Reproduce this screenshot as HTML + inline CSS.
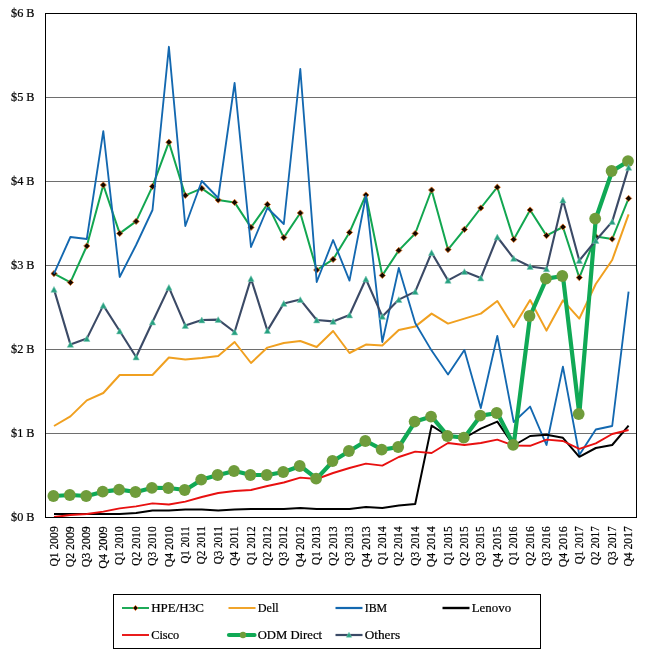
<!DOCTYPE html>
<html><head><meta charset="utf-8"><title>Server revenue by vendor</title>
<style>html,body{margin:0;padding:0;background:#fff}svg{display:block}</style></head>
<body>
<svg width="650" height="665" viewBox="0 0 650 665" font-family="&quot;Liberation Serif&quot;, serif" font-size="13px" >
<rect width="650" height="665" fill="#fff"/>
<style>text{stroke:#000;stroke-width:0.22px;fill:#000}</style>
<rect x="46" y="97" width="590" height="1" fill="#6e6e6e"/>
<rect x="46" y="181" width="590" height="1" fill="#6e6e6e"/>
<rect x="46" y="265" width="590" height="1" fill="#6e6e6e"/>
<rect x="46" y="349" width="590" height="1" fill="#6e6e6e"/>
<rect x="46" y="433" width="590" height="1" fill="#6e6e6e"/>
<polyline fill="none" stroke="#12A650" stroke-width="2.0" stroke-linejoin="round" stroke-linecap="butt" points="54.0,273.6 70.4,282.4 86.8,246.0 103.3,185.0 119.7,233.4 136.1,221.4 152.5,186.4 168.9,142.2 185.3,195.4 201.8,188.4 218.2,200.0 234.6,202.4 251.0,227.4 267.4,204.4 283.8,237.6 300.3,213.0 316.7,270.0 333.1,259.4 349.5,232.4 365.9,195.0 382.3,275.4 398.8,250.4 415.2,233.5 431.6,190.0 448.0,249.6 464.4,229.4 480.8,208.0 497.3,187.2 513.7,239.4 530.1,210.0 546.5,235.6 562.9,227.0 579.3,277.6 595.8,236.6 612.2,239.0 628.6,198.4"/>
<path d="M54.0 270.5L57.1 273.6L54.0 276.7L50.9 273.6Z" fill="#120800" stroke="#E0701E" stroke-width="0.8"/>
<path d="M70.4 279.3L73.5 282.4L70.4 285.5L67.3 282.4Z" fill="#120800" stroke="#E0701E" stroke-width="0.8"/>
<path d="M86.8 242.9L89.9 246.0L86.8 249.1L83.7 246.0Z" fill="#120800" stroke="#E0701E" stroke-width="0.8"/>
<path d="M103.3 181.9L106.4 185.0L103.3 188.1L100.2 185.0Z" fill="#120800" stroke="#E0701E" stroke-width="0.8"/>
<path d="M119.7 230.3L122.8 233.4L119.7 236.5L116.6 233.4Z" fill="#120800" stroke="#E0701E" stroke-width="0.8"/>
<path d="M136.1 218.3L139.2 221.4L136.1 224.5L133.0 221.4Z" fill="#120800" stroke="#E0701E" stroke-width="0.8"/>
<path d="M152.5 183.3L155.6 186.4L152.5 189.5L149.4 186.4Z" fill="#120800" stroke="#E0701E" stroke-width="0.8"/>
<path d="M168.9 139.1L172.0 142.2L168.9 145.3L165.8 142.2Z" fill="#120800" stroke="#E0701E" stroke-width="0.8"/>
<path d="M185.3 192.3L188.4 195.4L185.3 198.5L182.2 195.4Z" fill="#120800" stroke="#E0701E" stroke-width="0.8"/>
<path d="M201.8 185.3L204.9 188.4L201.8 191.5L198.7 188.4Z" fill="#120800" stroke="#E0701E" stroke-width="0.8"/>
<path d="M218.2 196.9L221.3 200.0L218.2 203.1L215.1 200.0Z" fill="#120800" stroke="#E0701E" stroke-width="0.8"/>
<path d="M234.6 199.3L237.7 202.4L234.6 205.5L231.5 202.4Z" fill="#120800" stroke="#E0701E" stroke-width="0.8"/>
<path d="M251.0 224.3L254.1 227.4L251.0 230.5L247.9 227.4Z" fill="#120800" stroke="#E0701E" stroke-width="0.8"/>
<path d="M267.4 201.3L270.5 204.4L267.4 207.5L264.3 204.4Z" fill="#120800" stroke="#E0701E" stroke-width="0.8"/>
<path d="M283.8 234.5L286.9 237.6L283.8 240.7L280.7 237.6Z" fill="#120800" stroke="#E0701E" stroke-width="0.8"/>
<path d="M300.3 209.9L303.4 213.0L300.3 216.1L297.2 213.0Z" fill="#120800" stroke="#E0701E" stroke-width="0.8"/>
<path d="M316.7 266.9L319.8 270.0L316.7 273.1L313.6 270.0Z" fill="#120800" stroke="#E0701E" stroke-width="0.8"/>
<path d="M333.1 256.3L336.2 259.4L333.1 262.5L330.0 259.4Z" fill="#120800" stroke="#E0701E" stroke-width="0.8"/>
<path d="M349.5 229.3L352.6 232.4L349.5 235.5L346.4 232.4Z" fill="#120800" stroke="#E0701E" stroke-width="0.8"/>
<path d="M365.9 191.9L369.0 195.0L365.9 198.1L362.8 195.0Z" fill="#120800" stroke="#E0701E" stroke-width="0.8"/>
<path d="M382.3 272.3L385.4 275.4L382.3 278.5L379.2 275.4Z" fill="#120800" stroke="#E0701E" stroke-width="0.8"/>
<path d="M398.8 247.3L401.9 250.4L398.8 253.5L395.7 250.4Z" fill="#120800" stroke="#E0701E" stroke-width="0.8"/>
<path d="M415.2 230.4L418.3 233.5L415.2 236.6L412.1 233.5Z" fill="#120800" stroke="#E0701E" stroke-width="0.8"/>
<path d="M431.6 186.9L434.7 190.0L431.6 193.1L428.5 190.0Z" fill="#120800" stroke="#E0701E" stroke-width="0.8"/>
<path d="M448.0 246.5L451.1 249.6L448.0 252.7L444.9 249.6Z" fill="#120800" stroke="#E0701E" stroke-width="0.8"/>
<path d="M464.4 226.3L467.5 229.4L464.4 232.5L461.3 229.4Z" fill="#120800" stroke="#E0701E" stroke-width="0.8"/>
<path d="M480.8 204.9L483.9 208.0L480.8 211.1L477.7 208.0Z" fill="#120800" stroke="#E0701E" stroke-width="0.8"/>
<path d="M497.3 184.1L500.4 187.2L497.3 190.3L494.2 187.2Z" fill="#120800" stroke="#E0701E" stroke-width="0.8"/>
<path d="M513.7 236.3L516.8 239.4L513.7 242.5L510.6 239.4Z" fill="#120800" stroke="#E0701E" stroke-width="0.8"/>
<path d="M530.1 206.9L533.2 210.0L530.1 213.1L527.0 210.0Z" fill="#120800" stroke="#E0701E" stroke-width="0.8"/>
<path d="M546.5 232.5L549.6 235.6L546.5 238.7L543.4 235.6Z" fill="#120800" stroke="#E0701E" stroke-width="0.8"/>
<path d="M562.9 223.9L566.0 227.0L562.9 230.1L559.8 227.0Z" fill="#120800" stroke="#E0701E" stroke-width="0.8"/>
<path d="M579.3 274.5L582.4 277.6L579.3 280.7L576.2 277.6Z" fill="#120800" stroke="#E0701E" stroke-width="0.8"/>
<path d="M595.8 233.5L598.9 236.6L595.8 239.7L592.7 236.6Z" fill="#120800" stroke="#E0701E" stroke-width="0.8"/>
<path d="M612.2 235.9L615.3 239.0L612.2 242.1L609.1 239.0Z" fill="#120800" stroke="#E0701E" stroke-width="0.8"/>
<path d="M628.6 195.3L631.7 198.4L628.6 201.5L625.5 198.4Z" fill="#120800" stroke="#E0701E" stroke-width="0.8"/>
<polyline fill="none" stroke="#F0A020" stroke-width="2.0" stroke-linejoin="round" stroke-linecap="butt" points="54.0,426.0 70.4,416.4 86.8,400.4 103.3,393.0 119.7,375.0 136.1,375.0 152.5,375.0 168.9,357.5 185.3,359.6 201.8,358.0 218.2,356.0 234.6,342.0 251.0,363.0 267.4,347.6 283.8,343.0 300.3,341.0 316.7,347.0 333.1,331.0 349.5,353.0 365.9,344.6 382.3,345.6 398.8,330.0 415.2,326.6 431.6,313.6 448.0,323.6 464.4,318.6 480.8,313.6 497.3,301.0 513.7,327.0 530.1,300.0 546.5,330.6 562.9,300.4 579.3,318.6 595.8,284.0 612.2,260.0 628.6,214.4"/>
<polyline fill="none" stroke="#1368B0" stroke-width="1.85" stroke-linejoin="round" stroke-linecap="butt" points="54.0,273.6 70.4,237.0 86.8,239.0 103.3,131.2 119.7,277.0 136.1,245.0 152.5,210.0 168.9,46.8 185.3,226.0 201.8,181.0 218.2,198.0 234.6,83.0 251.0,247.0 267.4,208.0 283.8,224.0 300.3,69.0 316.7,282.0 333.1,240.0 349.5,280.6 365.9,196.0 382.3,342.0 398.8,268.0 415.2,323.0 431.6,350.6 448.0,374.6 464.4,350.0 480.8,408.0 497.3,336.0 513.7,422.0 530.1,406.6 546.5,445.0 562.9,366.6 579.3,455.0 595.8,429.5 612.2,426.0 628.6,291.6"/>
<polyline fill="none" stroke="#000000" stroke-width="2.0" stroke-linejoin="round" stroke-linecap="butt" points="54.0,514.0 70.4,514.0 86.8,514.0 103.3,514.0 119.7,514.0 136.1,513.0 152.5,510.4 168.9,510.4 185.3,509.6 201.8,509.6 218.2,510.4 234.6,509.6 251.0,509.0 267.4,509.0 283.8,509.0 300.3,508.0 316.7,509.0 333.1,509.0 349.5,509.0 365.9,507.0 382.3,508.0 398.8,505.6 415.2,504.0 431.6,425.6 448.0,436.0 464.4,438.0 480.8,428.6 497.3,421.6 513.7,445.5 530.1,436.0 546.5,434.8 562.9,437.8 579.3,456.8 595.8,448.0 612.2,445.0 628.6,425.6"/>
<polyline fill="none" stroke="#E81010" stroke-width="1.9" stroke-linejoin="round" stroke-linecap="butt" points="54.0,517.0 70.4,515.0 86.8,514.0 103.3,511.6 119.7,508.4 136.1,506.4 152.5,503.4 168.9,504.5 185.3,501.6 201.8,497.0 218.2,493.0 234.6,491.0 251.0,490.0 267.4,486.0 283.8,482.5 300.3,477.6 316.7,479.0 333.1,473.0 349.5,468.0 365.9,463.6 382.3,465.6 398.8,457.0 415.2,451.6 431.6,453.0 448.0,443.0 464.4,445.0 480.8,443.0 497.3,439.6 513.7,445.6 530.1,445.8 546.5,439.6 562.9,441.0 579.3,448.8 595.8,443.3 612.2,434.0 628.6,430.0"/>
<polyline fill="none" stroke="#10A955" stroke-width="4.2" stroke-linejoin="round" stroke-linecap="butt" points="54.0,496.0 70.4,495.0 86.8,496.0 103.3,491.7 119.7,489.6 136.1,492.0 152.5,487.8 168.9,488.0 185.3,490.0 201.8,479.6 218.2,475.0 234.6,471.0 251.0,475.0 267.4,475.0 283.8,472.0 300.3,466.0 316.7,478.6 333.1,461.0 349.5,451.0 365.9,441.0 382.3,449.6 398.8,447.0 415.2,421.6 431.6,416.6 448.0,436.0 464.4,437.6 480.8,415.6 497.3,413.0 513.7,444.8 530.1,316.0 546.5,278.6 562.9,276.0 579.3,414.0 595.8,218.6 612.2,171.0 628.6,161.1"/>
<circle cx="53.4" cy="496.0" r="5.9" fill="#6F9C3B"/>
<circle cx="69.8" cy="495.0" r="5.9" fill="#6F9C3B"/>
<circle cx="86.2" cy="496.0" r="5.9" fill="#6F9C3B"/>
<circle cx="102.7" cy="491.7" r="5.9" fill="#6F9C3B"/>
<circle cx="119.1" cy="489.6" r="5.9" fill="#6F9C3B"/>
<circle cx="135.5" cy="492.0" r="5.9" fill="#6F9C3B"/>
<circle cx="151.9" cy="487.8" r="5.9" fill="#6F9C3B"/>
<circle cx="168.3" cy="488.0" r="5.9" fill="#6F9C3B"/>
<circle cx="184.7" cy="490.0" r="5.9" fill="#6F9C3B"/>
<circle cx="201.2" cy="479.6" r="5.9" fill="#6F9C3B"/>
<circle cx="217.6" cy="475.0" r="5.9" fill="#6F9C3B"/>
<circle cx="234.0" cy="471.0" r="5.9" fill="#6F9C3B"/>
<circle cx="250.4" cy="475.0" r="5.9" fill="#6F9C3B"/>
<circle cx="266.8" cy="475.0" r="5.9" fill="#6F9C3B"/>
<circle cx="283.2" cy="472.0" r="5.9" fill="#6F9C3B"/>
<circle cx="299.7" cy="466.0" r="5.9" fill="#6F9C3B"/>
<circle cx="316.1" cy="478.6" r="5.9" fill="#6F9C3B"/>
<circle cx="332.5" cy="461.0" r="5.9" fill="#6F9C3B"/>
<circle cx="348.9" cy="451.0" r="5.9" fill="#6F9C3B"/>
<circle cx="365.3" cy="441.0" r="5.9" fill="#6F9C3B"/>
<circle cx="381.7" cy="449.6" r="5.9" fill="#6F9C3B"/>
<circle cx="398.2" cy="447.0" r="5.9" fill="#6F9C3B"/>
<circle cx="414.6" cy="421.6" r="5.9" fill="#6F9C3B"/>
<circle cx="431.0" cy="416.6" r="5.9" fill="#6F9C3B"/>
<circle cx="447.4" cy="436.0" r="5.9" fill="#6F9C3B"/>
<circle cx="463.8" cy="437.6" r="5.9" fill="#6F9C3B"/>
<circle cx="480.2" cy="415.6" r="5.9" fill="#6F9C3B"/>
<circle cx="496.7" cy="413.0" r="5.9" fill="#6F9C3B"/>
<circle cx="513.1" cy="444.8" r="5.9" fill="#6F9C3B"/>
<circle cx="529.5" cy="316.0" r="5.9" fill="#6F9C3B"/>
<circle cx="545.9" cy="278.6" r="5.9" fill="#6F9C3B"/>
<circle cx="562.3" cy="276.0" r="5.9" fill="#6F9C3B"/>
<circle cx="578.7" cy="414.0" r="5.9" fill="#6F9C3B"/>
<circle cx="595.2" cy="218.6" r="5.9" fill="#6F9C3B"/>
<circle cx="611.6" cy="171.0" r="5.9" fill="#6F9C3B"/>
<circle cx="628.0" cy="161.1" r="5.9" fill="#6F9C3B"/>
<polyline fill="none" stroke="#3B4A66" stroke-width="2.1" stroke-linejoin="round" stroke-linecap="butt" points="54.0,289.4 70.4,344.4 86.8,338.6 103.3,305.4 119.7,331.0 136.1,357.0 152.5,322.0 168.9,287.4 185.3,325.6 201.8,320.0 218.2,319.6 234.6,332.0 251.0,278.6 267.4,330.6 283.8,303.4 300.3,299.6 316.7,320.0 333.1,321.4 349.5,315.0 365.9,279.0 382.3,316.4 398.8,299.6 415.2,291.6 431.6,252.6 448.0,280.4 464.4,271.6 480.8,278.0 497.3,237.0 513.7,258.4 530.1,266.5 546.5,268.8 562.9,200.0 579.3,260.5 595.8,240.5 612.2,221.6 628.6,167.4"/>
<path d="M54.0 286.5L57.1 292.3L50.9 292.3Z" fill="#25A07F" stroke="#7CC8B6" stroke-width="0.6"/>
<path d="M70.4 341.5L73.5 347.3L67.3 347.3Z" fill="#25A07F" stroke="#7CC8B6" stroke-width="0.6"/>
<path d="M86.8 335.7L89.9 341.5L83.7 341.5Z" fill="#25A07F" stroke="#7CC8B6" stroke-width="0.6"/>
<path d="M103.3 302.5L106.4 308.3L100.2 308.3Z" fill="#25A07F" stroke="#7CC8B6" stroke-width="0.6"/>
<path d="M119.7 328.1L122.8 333.9L116.6 333.9Z" fill="#25A07F" stroke="#7CC8B6" stroke-width="0.6"/>
<path d="M136.1 354.1L139.2 359.9L133.0 359.9Z" fill="#25A07F" stroke="#7CC8B6" stroke-width="0.6"/>
<path d="M152.5 319.1L155.6 324.9L149.4 324.9Z" fill="#25A07F" stroke="#7CC8B6" stroke-width="0.6"/>
<path d="M168.9 284.5L172.0 290.3L165.8 290.3Z" fill="#25A07F" stroke="#7CC8B6" stroke-width="0.6"/>
<path d="M185.3 322.7L188.4 328.5L182.2 328.5Z" fill="#25A07F" stroke="#7CC8B6" stroke-width="0.6"/>
<path d="M201.8 317.1L204.9 322.9L198.7 322.9Z" fill="#25A07F" stroke="#7CC8B6" stroke-width="0.6"/>
<path d="M218.2 316.7L221.3 322.5L215.1 322.5Z" fill="#25A07F" stroke="#7CC8B6" stroke-width="0.6"/>
<path d="M234.6 329.1L237.7 334.9L231.5 334.9Z" fill="#25A07F" stroke="#7CC8B6" stroke-width="0.6"/>
<path d="M251.0 275.7L254.1 281.5L247.9 281.5Z" fill="#25A07F" stroke="#7CC8B6" stroke-width="0.6"/>
<path d="M267.4 327.7L270.5 333.5L264.3 333.5Z" fill="#25A07F" stroke="#7CC8B6" stroke-width="0.6"/>
<path d="M283.8 300.5L286.9 306.3L280.7 306.3Z" fill="#25A07F" stroke="#7CC8B6" stroke-width="0.6"/>
<path d="M300.3 296.7L303.4 302.5L297.2 302.5Z" fill="#25A07F" stroke="#7CC8B6" stroke-width="0.6"/>
<path d="M316.7 317.1L319.8 322.9L313.6 322.9Z" fill="#25A07F" stroke="#7CC8B6" stroke-width="0.6"/>
<path d="M333.1 318.5L336.2 324.3L330.0 324.3Z" fill="#25A07F" stroke="#7CC8B6" stroke-width="0.6"/>
<path d="M349.5 312.1L352.6 317.9L346.4 317.9Z" fill="#25A07F" stroke="#7CC8B6" stroke-width="0.6"/>
<path d="M365.9 276.1L369.0 281.9L362.8 281.9Z" fill="#25A07F" stroke="#7CC8B6" stroke-width="0.6"/>
<path d="M382.3 313.5L385.4 319.3L379.2 319.3Z" fill="#25A07F" stroke="#7CC8B6" stroke-width="0.6"/>
<path d="M398.8 296.7L401.9 302.5L395.7 302.5Z" fill="#25A07F" stroke="#7CC8B6" stroke-width="0.6"/>
<path d="M415.2 288.7L418.3 294.5L412.1 294.5Z" fill="#25A07F" stroke="#7CC8B6" stroke-width="0.6"/>
<path d="M431.6 249.7L434.7 255.5L428.5 255.5Z" fill="#25A07F" stroke="#7CC8B6" stroke-width="0.6"/>
<path d="M448.0 277.5L451.1 283.3L444.9 283.3Z" fill="#25A07F" stroke="#7CC8B6" stroke-width="0.6"/>
<path d="M464.4 268.7L467.5 274.5L461.3 274.5Z" fill="#25A07F" stroke="#7CC8B6" stroke-width="0.6"/>
<path d="M480.8 275.1L483.9 280.9L477.7 280.9Z" fill="#25A07F" stroke="#7CC8B6" stroke-width="0.6"/>
<path d="M497.3 234.1L500.4 239.9L494.2 239.9Z" fill="#25A07F" stroke="#7CC8B6" stroke-width="0.6"/>
<path d="M513.7 255.5L516.8 261.3L510.6 261.3Z" fill="#25A07F" stroke="#7CC8B6" stroke-width="0.6"/>
<path d="M530.1 263.6L533.2 269.4L527.0 269.4Z" fill="#25A07F" stroke="#7CC8B6" stroke-width="0.6"/>
<path d="M546.5 265.9L549.6 271.7L543.4 271.7Z" fill="#25A07F" stroke="#7CC8B6" stroke-width="0.6"/>
<path d="M562.9 197.1L566.0 202.9L559.8 202.9Z" fill="#25A07F" stroke="#7CC8B6" stroke-width="0.6"/>
<path d="M579.3 257.6L582.4 263.4L576.2 263.4Z" fill="#25A07F" stroke="#7CC8B6" stroke-width="0.6"/>
<path d="M595.8 237.6L598.9 243.4L592.7 243.4Z" fill="#25A07F" stroke="#7CC8B6" stroke-width="0.6"/>
<path d="M612.2 218.7L615.3 224.5L609.1 224.5Z" fill="#25A07F" stroke="#7CC8B6" stroke-width="0.6"/>
<path d="M628.6 164.5L631.7 170.3L625.5 170.3Z" fill="#25A07F" stroke="#7CC8B6" stroke-width="0.6"/>
<rect x="45.5" y="13.5" width="591" height="504" fill="none" stroke="#000" stroke-width="1"/>
<text x="34.5" y="521.0" text-anchor="end" textLength="23.5" lengthAdjust="spacingAndGlyphs">$0 B</text>
<text x="34.5" y="437.0" text-anchor="end" textLength="23.5" lengthAdjust="spacingAndGlyphs">$1 B</text>
<text x="34.5" y="353.0" text-anchor="end" textLength="23.5" lengthAdjust="spacingAndGlyphs">$2 B</text>
<text x="34.5" y="269.0" text-anchor="end" textLength="23.5" lengthAdjust="spacingAndGlyphs">$3 B</text>
<text x="34.5" y="185.0" text-anchor="end" textLength="23.5" lengthAdjust="spacingAndGlyphs">$4 B</text>
<text x="34.5" y="101.0" text-anchor="end" textLength="23.5" lengthAdjust="spacingAndGlyphs">$5 B</text>
<text x="34.5" y="17.0" text-anchor="end" textLength="23.5" lengthAdjust="spacingAndGlyphs">$6 B</text>
<text transform="translate(57.6,526.3) rotate(-90)" text-anchor="end" textLength="40.3" lengthAdjust="spacingAndGlyphs">Q1 2009</text>
<text transform="translate(74.0,526.3) rotate(-90)" text-anchor="end" textLength="41.0" lengthAdjust="spacingAndGlyphs">Q2 2009</text>
<text transform="translate(90.4,526.3) rotate(-90)" text-anchor="end" textLength="41.0" lengthAdjust="spacingAndGlyphs">Q3 2009</text>
<text transform="translate(106.9,526.3) rotate(-90)" text-anchor="end" textLength="42.5" lengthAdjust="spacingAndGlyphs">Q4 2009</text>
<text transform="translate(123.3,526.3) rotate(-90)" text-anchor="end" textLength="38.8" lengthAdjust="spacingAndGlyphs">Q1 2010</text>
<text transform="translate(139.7,526.3) rotate(-90)" text-anchor="end" textLength="39.5" lengthAdjust="spacingAndGlyphs">Q2 2010</text>
<text transform="translate(156.1,526.3) rotate(-90)" text-anchor="end" textLength="39.5" lengthAdjust="spacingAndGlyphs">Q3 2010</text>
<text transform="translate(172.5,526.3) rotate(-90)" text-anchor="end" textLength="41.0" lengthAdjust="spacingAndGlyphs">Q4 2010</text>
<text transform="translate(188.9,526.3) rotate(-90)" text-anchor="end" textLength="37.3" lengthAdjust="spacingAndGlyphs">Q1 2011</text>
<text transform="translate(205.4,526.3) rotate(-90)" text-anchor="end" textLength="38.0" lengthAdjust="spacingAndGlyphs">Q2 2011</text>
<text transform="translate(221.8,526.3) rotate(-90)" text-anchor="end" textLength="38.0" lengthAdjust="spacingAndGlyphs">Q3 2011</text>
<text transform="translate(238.2,526.3) rotate(-90)" text-anchor="end" textLength="39.5" lengthAdjust="spacingAndGlyphs">Q4 2011</text>
<text transform="translate(254.6,526.3) rotate(-90)" text-anchor="end" textLength="38.8" lengthAdjust="spacingAndGlyphs">Q1 2012</text>
<text transform="translate(271.0,526.3) rotate(-90)" text-anchor="end" textLength="39.5" lengthAdjust="spacingAndGlyphs">Q2 2012</text>
<text transform="translate(287.4,526.3) rotate(-90)" text-anchor="end" textLength="39.5" lengthAdjust="spacingAndGlyphs">Q3 2012</text>
<text transform="translate(303.9,526.3) rotate(-90)" text-anchor="end" textLength="41.0" lengthAdjust="spacingAndGlyphs">Q4 2012</text>
<text transform="translate(320.3,526.3) rotate(-90)" text-anchor="end" textLength="38.8" lengthAdjust="spacingAndGlyphs">Q1 2013</text>
<text transform="translate(336.7,526.3) rotate(-90)" text-anchor="end" textLength="39.5" lengthAdjust="spacingAndGlyphs">Q2 2013</text>
<text transform="translate(353.1,526.3) rotate(-90)" text-anchor="end" textLength="39.5" lengthAdjust="spacingAndGlyphs">Q3 2013</text>
<text transform="translate(369.5,526.3) rotate(-90)" text-anchor="end" textLength="41.0" lengthAdjust="spacingAndGlyphs">Q4 2013</text>
<text transform="translate(385.9,526.3) rotate(-90)" text-anchor="end" textLength="38.8" lengthAdjust="spacingAndGlyphs">Q1 2014</text>
<text transform="translate(402.4,526.3) rotate(-90)" text-anchor="end" textLength="39.5" lengthAdjust="spacingAndGlyphs">Q2 2014</text>
<text transform="translate(418.8,526.3) rotate(-90)" text-anchor="end" textLength="39.5" lengthAdjust="spacingAndGlyphs">Q3 2014</text>
<text transform="translate(435.2,526.3) rotate(-90)" text-anchor="end" textLength="41.0" lengthAdjust="spacingAndGlyphs">Q4 2014</text>
<text transform="translate(451.6,526.3) rotate(-90)" text-anchor="end" textLength="38.8" lengthAdjust="spacingAndGlyphs">Q1 2015</text>
<text transform="translate(468.0,526.3) rotate(-90)" text-anchor="end" textLength="39.5" lengthAdjust="spacingAndGlyphs">Q2 2015</text>
<text transform="translate(484.4,526.3) rotate(-90)" text-anchor="end" textLength="39.5" lengthAdjust="spacingAndGlyphs">Q3 2015</text>
<text transform="translate(500.9,526.3) rotate(-90)" text-anchor="end" textLength="41.0" lengthAdjust="spacingAndGlyphs">Q4 2015</text>
<text transform="translate(517.3,526.3) rotate(-90)" text-anchor="end" textLength="38.8" lengthAdjust="spacingAndGlyphs">Q1 2016</text>
<text transform="translate(533.7,526.3) rotate(-90)" text-anchor="end" textLength="39.5" lengthAdjust="spacingAndGlyphs">Q2 2016</text>
<text transform="translate(550.1,526.3) rotate(-90)" text-anchor="end" textLength="39.5" lengthAdjust="spacingAndGlyphs">Q3 2016</text>
<text transform="translate(566.5,526.3) rotate(-90)" text-anchor="end" textLength="41.0" lengthAdjust="spacingAndGlyphs">Q4 2016</text>
<text transform="translate(582.9,526.3) rotate(-90)" text-anchor="end" textLength="38.0" lengthAdjust="spacingAndGlyphs">Q1 2017</text>
<text transform="translate(599.4,526.3) rotate(-90)" text-anchor="end" textLength="38.7" lengthAdjust="spacingAndGlyphs">Q2 2017</text>
<text transform="translate(615.8,526.3) rotate(-90)" text-anchor="end" textLength="38.7" lengthAdjust="spacingAndGlyphs">Q3 2017</text>
<text transform="translate(632.2,526.3) rotate(-90)" text-anchor="end" textLength="40.2" lengthAdjust="spacingAndGlyphs">Q4 2017</text>
<rect x="113.5" y="594.5" width="427" height="54" fill="#fff" stroke="#000" stroke-width="1"/>
<line x1="122" y1="608" x2="149" y2="608" stroke="#12A650" stroke-width="1.9"/><path d="M135.5 605.4L138.1 608.0L135.5 610.6L132.9 608.0Z" fill="#120800" stroke="#E0701E" stroke-width="0.8"/><text x="151.2" y="612.3" textLength="52.6" lengthAdjust="spacingAndGlyphs">HPE/H3C</text>
<line x1="228.5" y1="608" x2="255.5" y2="608" stroke="#F0A020" stroke-width="1.9"/><text x="257.7" y="612.3" textLength="21" lengthAdjust="spacingAndGlyphs">Dell</text>
<line x1="335.5" y1="608" x2="362.5" y2="608" stroke="#1368B0" stroke-width="2.2"/><text x="364.7" y="612.3" textLength="22.4" lengthAdjust="spacingAndGlyphs">IBM</text>
<line x1="442.5" y1="608" x2="469.5" y2="608" stroke="#000000" stroke-width="2.4"/><text x="471.7" y="612.3" textLength="39.4" lengthAdjust="spacingAndGlyphs">Lenovo</text>
<line x1="122" y1="635" x2="149" y2="635" stroke="#E81010" stroke-width="1.9"/><text x="151.2" y="639.3" textLength="28" lengthAdjust="spacingAndGlyphs">Cisco</text>
<line x1="229.0" y1="635" x2="254.5" y2="635" stroke="#10A955" stroke-width="4.2" stroke-linecap="round"/><circle cx="243.0" cy="635.0" r="3.2" fill="#6F9C3B"/><text x="257.7" y="639.3" textLength="64.4" lengthAdjust="spacingAndGlyphs">ODM Direct</text>
<line x1="335.5" y1="635" x2="362.5" y2="635" stroke="#3B4A66" stroke-width="2.2"/><path d="M349.0 632.2L351.7 637.2L346.3 637.2Z" fill="#25A07F" stroke="#7CC8B6" stroke-width="0.6"/><text x="364.7" y="639.3" textLength="35.4" lengthAdjust="spacingAndGlyphs">Others</text>
</svg>
</body></html>
